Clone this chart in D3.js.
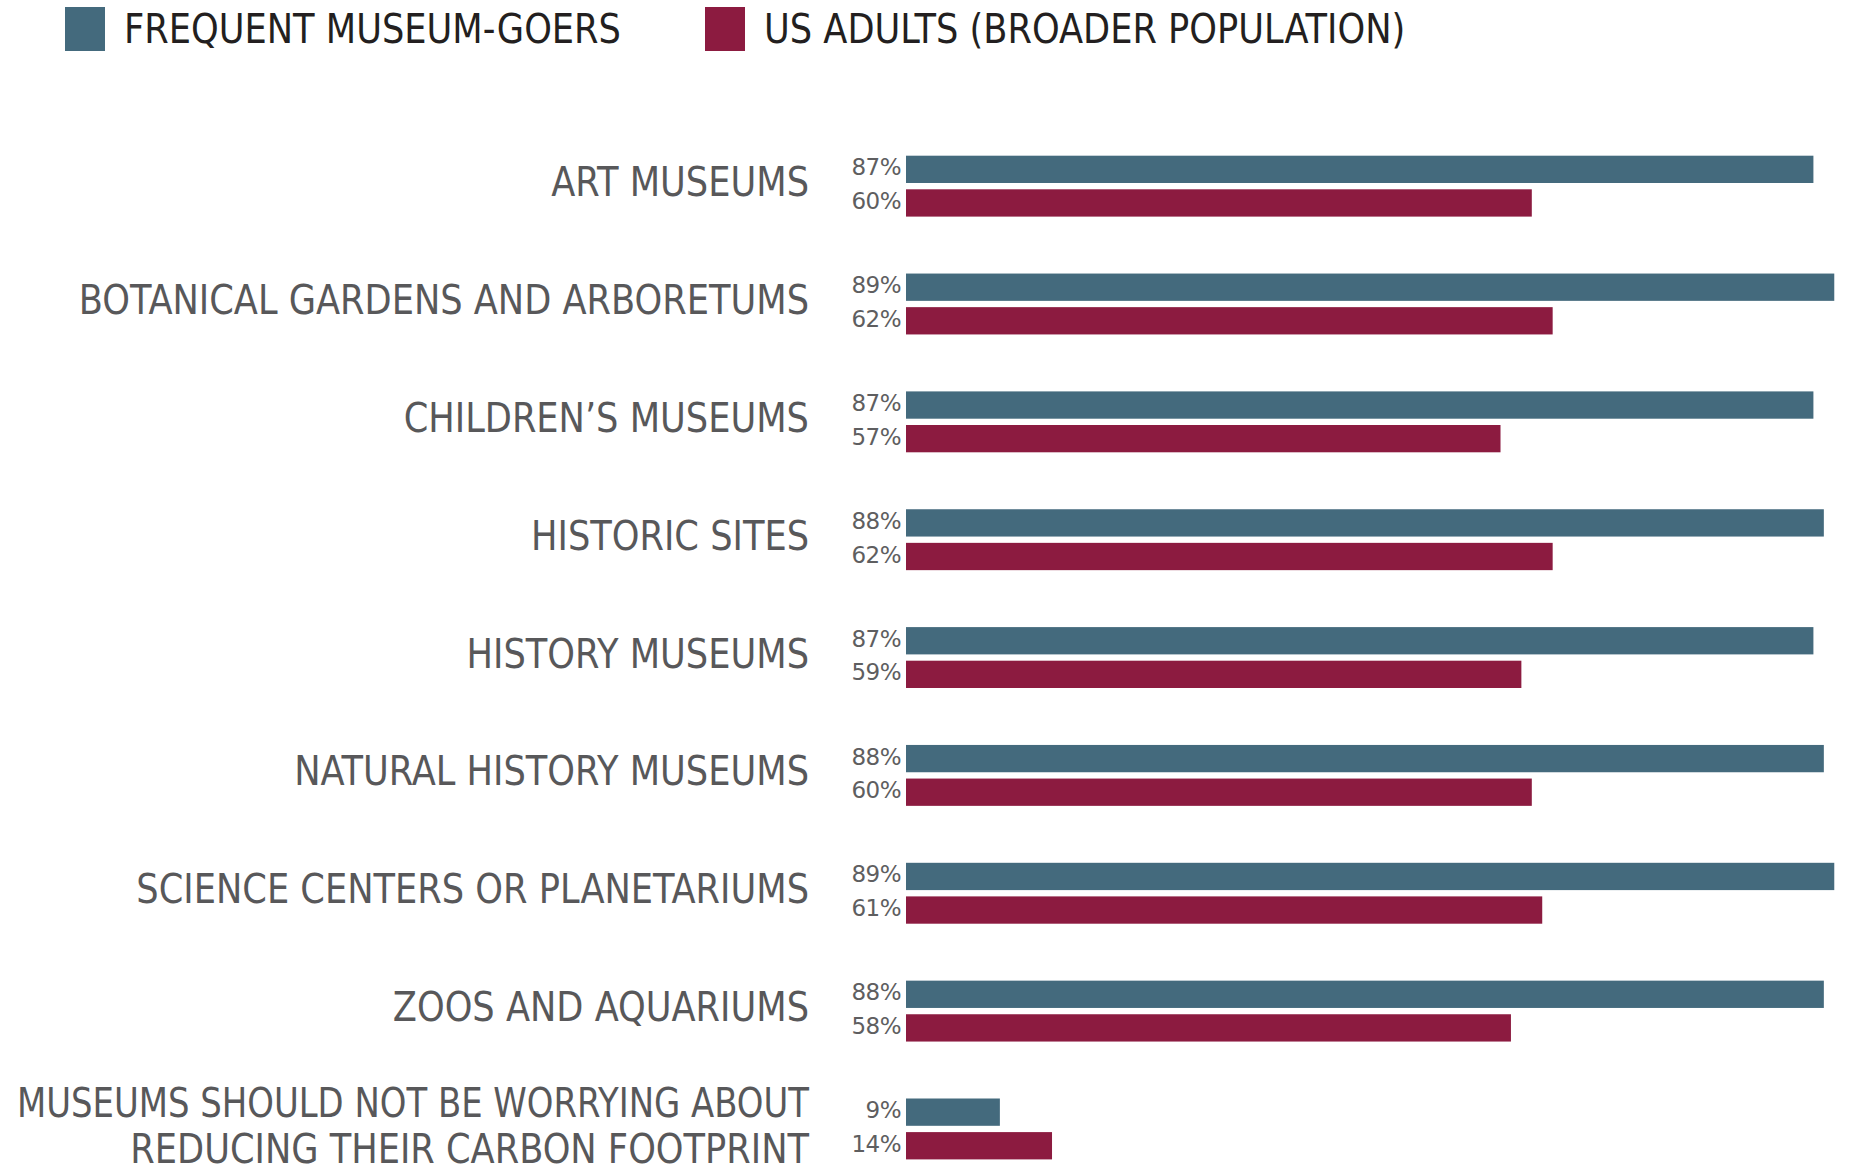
<!DOCTYPE html>
<html>
<head>
<meta charset="utf-8">
<script src="https://cdn.jsdelivr.net/npm/d3@7"></script>
<style>
  html, body { margin: 0; padding: 0; background: #ffffff; }
  svg { display: block; }
</style>
</head>
<body>
<svg id="chart" width="1855" height="1173"></svg>
<script>
// Survey categories (multi-line labels split with "\n")
const categories = [
  "ART MUSEUMS",
  "BOTANICAL GARDENS AND ARBORETUMS",
  "CHILDREN\u2019S MUSEUMS",
  "HISTORIC SITES",
  "HISTORY MUSEUMS",
  "NATURAL HISTORY MUSEUMS",
  "SCIENCE CENTERS OR PLANETARIUMS",
  "ZOOS AND AQUARIUMS",
  "MUSEUMS SHOULD NOT BE WORRYING ABOUT\nREDUCING THEIR CARBON FOOTPRINT"
];

const seriesNames = ["FREQUENT MUSEUM-GOERS", "US ADULTS (BROADER POPULATION)"];
const frequentGoers = [87, 89, 87, 88, 87, 88, 89, 88, 9];
const usAdults      = [60, 62, 57, 62, 59, 60, 61, 58, 14];
const seriesColors  = ["#446a7d", "#8c1b40"];

const rows = categories.map((c, i) => ({
  category: c,
  values: [frequentGoers[i], usAdults[i]]
}));

const svg = d3.select("#chart");
const textColor = "#58585a";
const labelFont = "'Liberation Sans Narrow', 'DejaVu Sans Condensed', 'Roboto', sans-serif";
const numberFont = "'DejaVu Sans', 'Noto Sans', sans-serif";
const condense = 0.955;      // horizontal squeeze for the condensed label face
const labelRight = 809;      // right edge of the category labels
const labelMaxWidth = 792;   // widest a label line may get

// Scales
const x = d3.scaleLinear().domain([0, 100]).range([906, 1949]);
const groupTop = 155.7, groupStep = 117.85;
const y0 = d3.scaleBand()
  .domain(categories)
  .range([groupTop, groupTop + groupStep * categories.length])
  .padding(0);
const y1 = d3.scaleBand()
  .domain(d3.range(2))
  .range([0, 60.9])
  .paddingInner(0.1875)
  .paddingOuter(0);

// Legend
const legend = svg.append("g").attr("class", "legend");
const legendX = [65, 705];
seriesNames.forEach((name, i) => {
  legend.append("rect")
    .attr("x", legendX[i]).attr("y", 7)
    .attr("width", 40).attr("height", 44)
    .attr("fill", seriesColors[i]);
  legend.append("text")
    .attr("transform", `translate(${legendX[i] + 59},43) scale(${condense},1)`)
    .attr("font-family", labelFont)
    .attr("font-size", 41)
    .attr("fill", "#231f20")
    .text(name);
});

// Groups
const groups = svg.append("g").selectAll("g.row")
  .data(rows)
  .join("g")
  .attr("class", "row")
  .attr("transform", d => `translate(0,${y0(d.category)})`);

// Bars
groups.selectAll("rect")
  .data(d => d.values.map((v, i) => ({ v, i })))
  .join("rect")
  .attr("x", x(0))
  .attr("y", d => y1(d.i))
  .attr("width", d => x(d.v) - x(0))
  .attr("height", y1.bandwidth())
  .attr("fill", d => seriesColors[d.i]);

// Value labels
groups.selectAll("text.value")
  .data(d => d.values.map((v, i) => ({ v, i })))
  .join("text")
  .attr("class", "value")
  .attr("x", x(0) - 5)
  .attr("y", d => y1(d.i) + y1.bandwidth() / 2 + 6)
  .attr("text-anchor", "end")
  .attr("font-family", numberFont)
  .attr("font-size", 23)
  .attr("letter-spacing", -0.5)
  .attr("fill", "#5e5e60")
  .text(d => d.v + "%");

// Category labels: one text per line, squeezed so long lines stay inside the page
const groupMid = 60.9 / 2;
const lineHeight = 46;
groups.each(function(d) {
  const lines = d.category.split("\n");
  const first = groupMid + 10 + (lines.length - 1) * (1 - lineHeight / 2);
  lines.forEach((line, j) => {
    const t = d3.select(this).append("text")
      .attr("class", "category")
      .attr("text-anchor", "end")
      .attr("font-family", labelFont)
      .attr("font-size", 41)
      .attr("fill", textColor)
      .text(line);
    const w = t.node().getComputedTextLength();
    const sx = Math.min(condense, labelMaxWidth / w);
    t.attr("transform", `translate(${labelRight},${first + j * lineHeight}) scale(${sx},1)`);
  });
});
</script>
</body>
</html>
